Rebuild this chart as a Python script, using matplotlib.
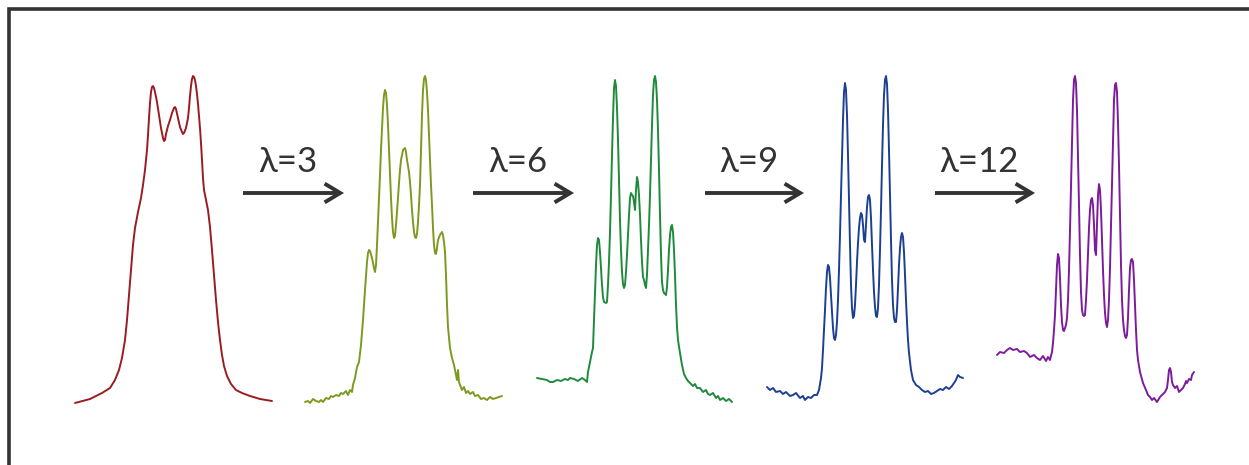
import matplotlib
matplotlib.use("Agg")
import matplotlib.pyplot as plt
from matplotlib.patches import FancyArrowPatch

plt.rcParams['font.family'] = ['Lato', 'DejaVu Sans']

# Spectra (x = horizontal position, y = vertical position, image pixels)
red_pts = [(75, 403), (90, 399), (102, 393), (110, 388), (115, 380), (119, 370), (122, 358), (125, 340),
           (127, 320), (129, 295), (131, 270), (133, 245), (135, 228), (138, 212), (141, 198), (143, 185),
           (145, 170), (147, 150), (148, 135), (149, 118), (150, 103), (151, 92), (152, 87), (153, 86),
           (154, 88), (155, 92), (157, 102), (159, 115), (161, 128), (163, 138), (164, 141), (165, 140),
           (166, 134), (168, 126), (170, 120), (172, 113), (174, 108), (175, 107), (176, 109), (178, 118),
           (180, 127), (182, 132), (183, 134), (184, 133), (186, 128), (188, 118), (189, 108), (190, 96),
           (191, 86), (192, 79), (193, 76), (194, 77), (195, 80), (196, 86), (197, 94), (198, 104),
           (199, 116), (200, 128), (201, 143), (202, 160), (203, 178), (204, 190), (206, 200), (208, 210),
           (210, 227), (212, 250), (214, 275), (216, 300), (218, 322), (220, 340), (222, 355), (224, 366),
           (227, 376), (231, 384), (236, 390), (242, 393), (250, 396), (260, 399), (272, 401)]

olive_pts = [(305, 402), (308, 401), (310, 403), (313, 399), (316, 401), (319, 402), (321, 400), (323, 402),
             (326, 398), (329, 399), (331, 396), (333, 397), (336, 395), (339, 396), (341, 393), (343, 394),
             (346, 391), (348, 395), (350, 390), (352, 392), (353, 385), (355, 378), (357, 367), (359, 362),
             (361, 345), (363, 320), (365, 290), (367, 262), (368, 253), (369, 250), (370, 251), (372, 258),
             (374, 268), (375, 272), (376, 265), (377, 245), (378, 222), (379, 200), (380, 175), (381, 150),
             (382, 128), (383, 108), (384, 95), (385, 90), (386, 93), (387, 105), (388, 125), (389, 150),
             (390, 175), (391, 198), (392, 218), (393, 232), (394, 238), (395, 236), (396, 225), (397, 212),
             (398, 198), (399, 183), (400, 170), (401, 160), (402, 155), (403, 150), (405, 148), (406, 152),
             (407, 160), (408, 166), (409, 172), (410, 182), (411, 195), (412, 210), (413, 222), (414, 232),
             (415, 237), (416, 238), (417, 234), (418, 222), (419, 205), (420, 185), (421, 150), (422, 115),
             (423, 90), (424, 79), (425, 76), (426, 80), (427, 92), (428, 110), (429, 135), (430, 160),
             (431, 185), (432, 205), (433, 228), (434, 245), (435, 253), (436, 254), (437, 248), (438, 240),
             (440, 235), (442, 232), (443, 235), (444, 242), (445, 252), (446, 275), (447, 305), (448, 327),
             (450, 348), (452, 358), (454, 365), (456, 375), (457, 380), (458, 370), (459, 382), (460, 385),
             (462, 390), (464, 387), (466, 393), (468, 391), (470, 394), (473, 392), (475, 396), (478, 395),
             (481, 399), (484, 398), (487, 400), (490, 397), (493, 399), (496, 398), (499, 397), (502, 396)]

green_pts = [(537, 378), (542, 379), (547, 380), (550, 382), (553, 382), (557, 380), (561, 381), (565, 379),
             (568, 380), (570, 378), (574, 379), (578, 381), (582, 378), (585, 380), (587, 382), (588, 372),
             (590, 362), (592, 352), (593, 348), (594, 320), (595, 293), (596, 265), (597, 245), (598, 238),
             (599, 240), (600, 252), (601, 268), (602, 285), (603, 297), (604, 302), (606, 303), (607, 302),
             (608, 285), (609, 262), (610, 232), (611, 195), (612, 155), (613, 118), (614, 88), (615, 80),
             (616, 86), (617, 108), (618, 140), (619, 180), (620, 220), (621, 250), (622, 272), (623, 284),
             (624, 288), (625, 285), (626, 272), (627, 255), (628, 235), (629, 215), (630, 198), (631, 193),
             (632, 195), (633, 196), (634, 202), (635, 210), (636, 190), (637, 177), (638, 182), (639, 195),
             (640, 215), (641, 240), (642, 262), (643, 277), (644, 280), (645, 285), (646, 288), (647, 275),
             (648, 250), (649, 225), (650, 195), (651, 160), (652, 125), (653, 95), (654, 80), (655, 76),
             (656, 82), (657, 100), (658, 130), (659, 170), (660, 215), (661, 255), (662, 282), (663, 290),
             (664, 293), (666, 295), (667, 287), (668, 270), (669, 250), (670, 235), (671, 227), (672, 225),
             (673, 232), (674, 250), (675, 275), (676, 305), (677, 327), (678, 340), (680, 353), (682, 365),
             (684, 374), (686, 378), (688, 381), (690, 383), (693, 386), (695, 384), (697, 388), (700, 388),
             (703, 392), (706, 390), (708, 394), (710, 395), (713, 393), (716, 398), (718, 396), (720, 400),
             (723, 398), (726, 401), (729, 399), (732, 402)]

blue_pts = [(767, 387), (770, 390), (773, 388), (776, 392), (780, 391), (783, 394), (786, 392), (790, 396),
            (793, 395), (796, 393), (800, 398), (803, 396), (805, 400), (808, 397), (811, 398), (814, 395),
            (817, 395), (819, 390), (821, 378), (822, 368), (823, 350), (824, 330), (825, 310), (826, 288),
            (827, 272), (828, 265), (829, 267), (830, 278), (831, 295), (832, 312), (833, 328), (834, 338),
            (835, 340), (836, 335), (837, 322), (838, 300), (839, 270), (840, 235), (841, 195), (842, 158),
            (843, 120), (844, 92), (845, 83), (846, 90), (847, 115), (848, 155), (849, 200), (850, 245),
            (851, 285), (852, 308), (853, 318), (854, 316), (855, 305), (856, 285), (857, 262), (858, 243),
            (859, 228), (860, 218), (861, 213), (862, 215), (863, 225), (864, 240), (865, 242), (866, 225),
            (867, 207), (868, 197), (869, 195), (870, 200), (871, 218), (872, 245), (873, 270), (874, 292),
            (875, 307), (876, 316), (877, 317), (878, 308), (879, 285), (880, 250), (881, 210), (882, 165),
            (883, 125), (884, 95), (885, 80), (886, 76), (887, 84), (888, 110), (889, 150), (890, 195),
            (891, 240), (892, 280), (893, 305), (894, 318), (895, 322), (896, 322), (897, 310), (898, 288),
            (899, 265), (900, 248), (901, 237), (902, 233), (903, 237), (904, 252), (905, 275), (906, 300),
            (907, 322), (908, 340), (909, 353), (911, 370), (913, 380), (916, 385), (919, 387), (922, 390),
            (925, 392), (928, 391), (931, 394), (934, 393), (937, 391), (940, 389), (943, 390), (946, 387),
            (949, 389), (952, 386), (954, 383), (956, 380), (958, 375), (960, 377), (963, 378)]

purple_pts = [(997, 355), (1000, 352), (1004, 353), (1007, 350), (1010, 348), (1013, 350), (1017, 349),
              (1020, 352), (1024, 351), (1027, 353), (1030, 357), (1034, 355), (1037, 358), (1040, 360),
              (1043, 356), (1046, 361), (1048, 357), (1050, 360), (1052, 352), (1053, 343), (1054, 330),
              (1055, 315), (1056, 290), (1057, 265), (1058, 254), (1059, 258), (1060, 278), (1061, 305),
              (1062, 322), (1063, 330), (1064, 331), (1065, 328), (1066, 325), (1067, 318), (1068, 300),
              (1069, 270), (1070, 230), (1071, 185), (1072, 140), (1073, 100), (1074, 80), (1075, 76),
              (1076, 83), (1077, 110), (1078, 155), (1079, 205), (1080, 255), (1081, 292), (1082, 310),
              (1083, 315), (1084, 316), (1085, 315), (1086, 300), (1087, 280), (1088, 255), (1089, 228),
              (1090, 210), (1091, 200), (1092, 198), (1093, 205), (1094, 225), (1095, 250), (1096, 255),
              (1097, 225), (1098, 195), (1099, 184), (1100, 190), (1101, 210), (1102, 240), (1103, 270),
              (1104, 295), (1105, 313), (1106, 323), (1107, 327), (1108, 320), (1109, 300), (1110, 268),
              (1111, 225), (1112, 180), (1113, 135), (1114, 100), (1115, 85), (1116, 83), (1117, 92),
              (1118, 122), (1119, 165), (1120, 215), (1121, 265), (1122, 300), (1123, 320), (1124, 330),
              (1125, 336), (1126, 338), (1127, 335), (1128, 318), (1129, 290), (1130, 268), (1131, 260),
              (1132, 259), (1133, 262), (1134, 280), (1135, 305), (1136, 330), (1137, 350), (1138, 360),
              (1140, 372), (1143, 383), (1146, 390), (1148, 395), (1150, 397), (1152, 400), (1154, 398),
              (1157, 402), (1160, 397), (1163, 394), (1165, 392), (1167, 388), (1168, 380), (1169, 370),
              (1170, 368), (1171, 372), (1172, 382), (1173, 385), (1175, 388), (1177, 386), (1179, 392),
              (1181, 390), (1183, 388), (1185, 384), (1186, 381), (1187, 383), (1189, 379), (1191, 380),
              (1192, 375), (1194, 372)]

series_colors = ['#9a1c22', '#7d9a1e', '#208a3c', '#1d3f93', '#7c1c9c']

labels = ['λ=3', 'λ=6', 'λ=9', 'λ=12']
arrow_start = [243, 473, 705, 935]
arrow_end = [344, 574, 804, 1035]
arrow_y = 193
label_y = 162

fig = plt.figure(figsize=(12.49, 4.65), dpi=100)
ax = fig.add_axes([0, 0, 1, 1])
ax.set_xlim(0, 1249)
ax.set_ylim(465, 0)
ax.axis('off')

# frame (only top & left visible, rest cropped)
ax.plot([9.3, 9.3, 1260], [480, 9.5, 9.5], color='#333333', lw=2.6, solid_joinstyle='miter',
        solid_capstyle='butt', clip_on=False)

for pts, c in zip([red_pts, olive_pts, green_pts, blue_pts, purple_pts], series_colors):
    xs = [p[0] for p in pts]
    ys = [p[1] for p in pts]
    ax.plot(xs, ys, color=c, lw=1.4, solid_joinstyle='round', solid_capstyle='round')

for lab, x0, x1 in zip(labels, arrow_start, arrow_end):
    arr = FancyArrowPatch((x0, arrow_y), (x1, arrow_y), arrowstyle='->,head_length=7.5,head_width=4.5',
                          mutation_scale=1.5, color='#333333', lw=2.8, shrinkA=0, shrinkB=0,
                          joinstyle='miter', capstyle='butt')
    ax.add_patch(arr)
    ax.text((x0 + x1) / 2 - 6, label_y, lab, ha='center', va='center', fontsize=25, color='#333333')

fig.savefig('out.png', dpi=100)
